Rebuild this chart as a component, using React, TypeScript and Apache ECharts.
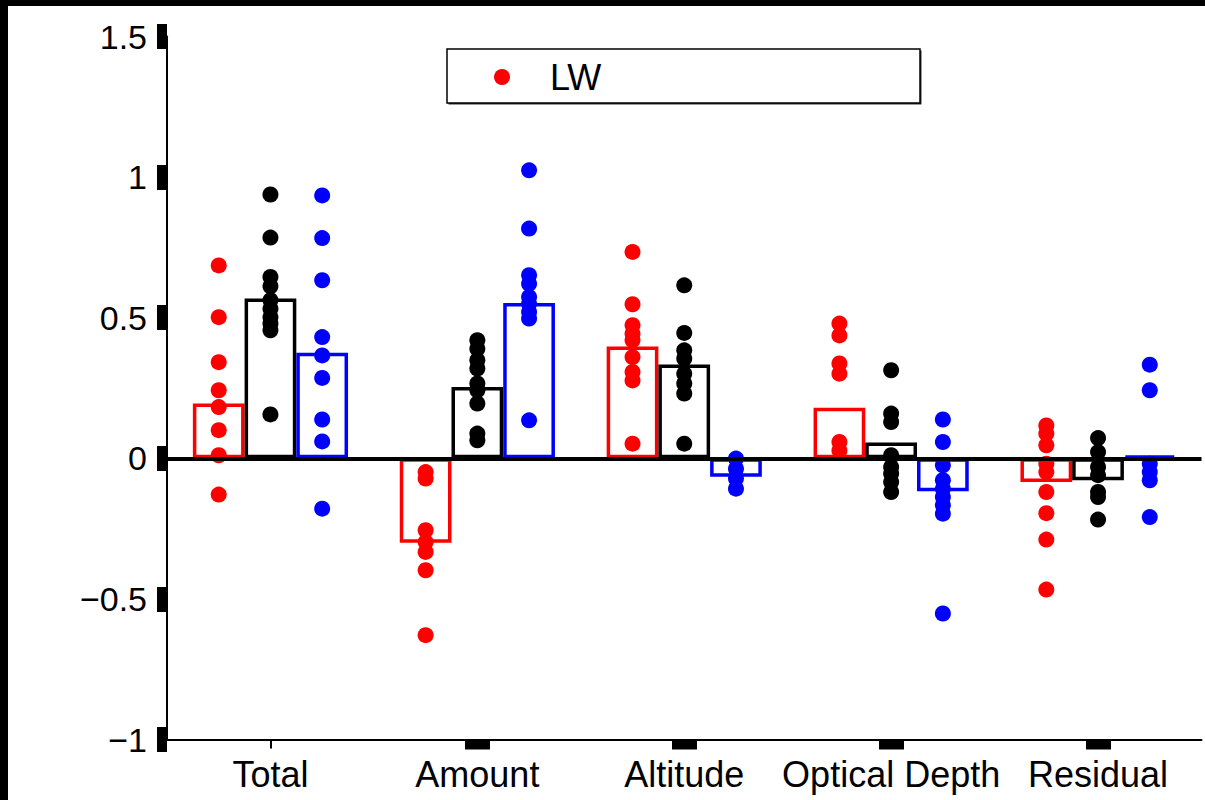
import React, { useEffect, useRef } from "react";
import * as echarts from "echarts";

const categories = ["Total", "Amount", "Altitude", "Optical Depth", "Residual"];

const barRed = [0.195, -0.3, 0.398, 0.18, -0.084];
const barBlack = [0.568, 0.254, 0.334, 0.056, -0.078];
const barBlue = [0.375, 0.552, -0.066, -0.117, 0.01];

const redPoints = [
  [0.686, 0.502, 0.342, 0.242, 0.182, 0.1, 0.011, -0.129],
  [-0.049, -0.072, -0.256, -0.298, -0.333, -0.398, -0.629],
  [0.734, 0.548, 0.473, 0.443, 0.42, 0.36, 0.307, 0.277, 0.052],
  [0.479, 0.437, 0.337, 0.301, 0.058, 0.028],
  [0.117, 0.088, 0.046, -0.019, -0.049, -0.12, -0.195, -0.289, -0.467],
];
const blackPoints = [
  [0.938, 0.785, 0.645, 0.612, 0.562, 0.532, 0.502, 0.479, 0.455, 0.156],
  [0.42, 0.39, 0.349, 0.319, 0.266, 0.242, 0.195, 0.088, 0.064],
  [0.615, 0.446, 0.384, 0.355, 0.301, 0.266, 0.23, 0.052],
  [0.313, 0.159, 0.129, 0.011, -0.031, -0.054, -0.084, -0.12],
  [0.072, 0.022, -0.031, -0.06, -0.12, -0.138, -0.218],
];
const bluePoints = [
  [0.935, 0.783, 0.633, 0.431, 0.366, 0.286, 0.138, 0.06, -0.179],
  [1.024, 0.817, 0.651, 0.621, 0.574, 0.55, 0.52, 0.497, 0.135],
  [-0.001, -0.037, -0.072, -0.108],
  [0.138, 0.058, -0.025, -0.078, -0.108, -0.138, -0.167, -0.197, -0.552],
  [0.333, 0.242, -0.019, -0.049, -0.078, -0.209],
];

const yMin = -1;
const yMax = 1.5;
const yStep = 0.5;

const FONT = "'Liberation Sans', Arial, Helvetica, sans-serif";
const RED = "#ff0000";
const BLACK = "#000000";
const BLUE = "#0000ff";

// position of each group's dots inside a category band (band = 1 unit)
const groupOffset = [0.25, 0.5, 0.75];

function toPairs(groups: number[][], offset: number) {
  const out: number[][] = [];
  groups.forEach((vals, i) => {
    vals.forEach((v) => out.push([i + offset, v]));
  });
  return out;
}

export default function App() {
  const ref = useRef<HTMLDivElement>(null);

  useEffect(() => {
    document.body.style.margin = "0";
    const chart = echarts.init(ref.current!, null, { renderer: "svg" });

    const barSeries = (name: string, data: number[], color: string, extra: any = {}) => ({
      type: "bar",
      name,
      xAxisIndex: 0,
      yAxisIndex: 0,
      data,
      barWidth: "25%",
      barGap: "0%",
      itemStyle: { color: "rgba(0,0,0,0)", borderColor: color, borderWidth: 3.5 },
      emphasis: { disabled: true },
      ...extra,
    });

    const scatterSeries = (name: string, groups: number[][], offset: number, color: string) => ({
      type: "scatter",
      name,
      xAxisIndex: 2,
      yAxisIndex: 0,
      symbol: "circle",
      symbolSize: 16,
      data: toPairs(groups, offset),
      itemStyle: { color, opacity: 1 },
      emphasis: { disabled: true },
    });

    chart.setOption({
      animation: false,
      backgroundColor: "#ffffff",
      grid: { left: 167, right: 3.5, top: 36.5, bottom: 60.5, containLabel: false },
      graphic: [
        { type: "rect", shape: { x: 0, y: 0, width: 1205, height: 6 }, style: { fill: "#000" }, silent: true },
        { type: "rect", shape: { x: 0, y: 0, width: 8, height: 800 }, style: { fill: "#000" }, silent: true },
        { type: "rect", shape: { x: 448.5, y: 50.5, width: 473, height: 54 }, style: { fill: "#333" }, silent: true },
        {
          type: "rect",
          shape: { x: 447, y: 49, width: 473, height: 54 },
          style: { fill: "#fff", stroke: "#000", lineWidth: 1.5 },
          silent: true,
        },
      ],
      legend: {
        data: ["LW"],
        left: 494,
        top: 57,
        padding: 0,
        itemWidth: 16,
        itemHeight: 16,
        icon: "circle",
        selectedMode: false,
        textStyle: {
          fontSize: 36,
          fontFamily: FONT,
          color: "#000",
          lineHeight: 40,
          padding: [0, 0, 0, 35],
        },
      },
      xAxis: [
        {
          type: "category",
          data: categories,
          position: "bottom",
          axisLine: { show: true, onZero: false, lineStyle: { color: BLACK, width: 2 } },
          axisTick: {
            show: true,
            alignWithLabel: true,
            length: 10,
            interval: (index: number) => index !== 0,
            lineStyle: { color: BLACK, width: 25 },
          },
          axisLabel: { fontSize: 36, fontFamily: FONT, color: BLACK, margin: 17, interval: 0 },
          splitLine: { show: false },
        },
        {
          type: "category",
          data: categories,
          position: "bottom",
          axisLine: { show: false, onZero: false },
          axisTick: {
            show: true,
            alignWithLabel: true,
            length: 9,
            interval: (index: number) => index === 0,
            lineStyle: { color: BLACK, width: 2 },
          },
          axisLabel: { show: false },
          splitLine: { show: false },
        },
        {
          type: "value",
          min: 0,
          max: categories.length,
          show: false,
          position: "bottom",
          axisLine: { onZero: false },
        },
      ],
      yAxis: {
        type: "value",
        min: yMin,
        max: yMax,
        interval: yStep,
        axisLine: { show: true, onZero: false, lineStyle: { color: BLACK, width: 2 } },
        axisTick: { show: true, length: 10, lineStyle: { color: BLACK, width: 25 } },
        axisLabel: {
          fontSize: 34,
          fontFamily: FONT,
          color: BLACK,
          margin: 20,
          formatter: (v: number) => String(v).replace("-", "\u2212"),
        },
        splitLine: { show: false },
      },
      series: [
        barSeries("LW bar", barRed, RED, {
          markLine: {
            silent: true,
            symbol: ["none", "none"],
            label: { show: false },
            lineStyle: { color: BLACK, width: 4, type: "solid" },
            data: [{ yAxis: 0 }],
          },
        }),
        barSeries("black bar", barBlack, BLACK),
        barSeries("blue bar", barBlue, BLUE),
        scatterSeries("LW", redPoints, groupOffset[0], RED),
        scatterSeries("black", blackPoints, groupOffset[1], BLACK),
        scatterSeries("blue", bluePoints, groupOffset[2], BLUE),
      ],
    });

    return () => chart.dispose();
  }, []);

  return (
    <div
      ref={ref}
      style={{ position: "absolute", left: 0, top: 0, width: 1205, height: 800, background: "#fff" }}
    />
  );
}
